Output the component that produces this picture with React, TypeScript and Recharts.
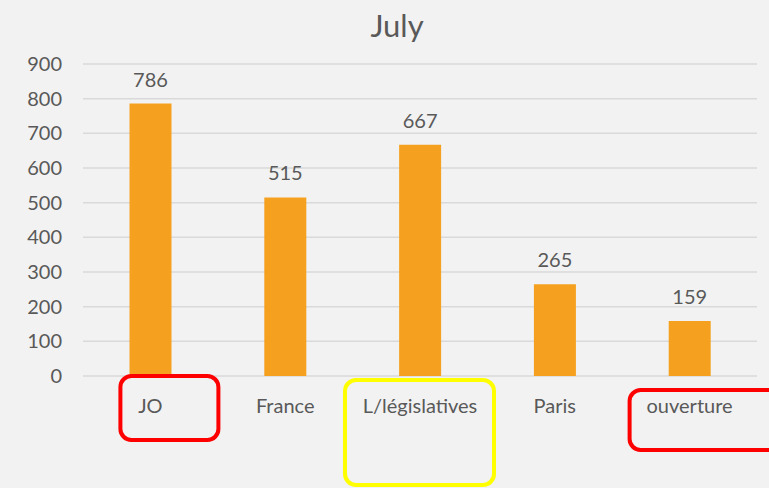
import React from 'react';
import { BarChart, Bar, XAxis, YAxis, CartesianGrid, LabelList } from 'recharts';

const categories = ['JO', 'France', 'L/législatives', 'Paris', 'ouverture'];
const counts = [786, 515, 667, 265, 159];
const yTicks = [0, 100, 200, 300, 400, 500, 600, 700, 800, 900];
const title = 'July';

const data = categories.map((name, i) => ({ name, value: counts[i] }));

// hand-drawn highlight boxes around some category labels (relative to the tick)
const highlights: Record<string, { color: string; dx1: number; dx2: number; dy1: number; dy2: number }> = {
  JO: { color: '#FF0000', dx1: -30, dx2: 68, dy1: 0, dy2: 64 },
  'L/législatives': { color: '#FFFF00', dx1: -75, dx2: 74, dy1: 4, dy2: 109 },
  ouverture: { color: '#FF0000', dx1: -60, dx2: 95, dy1: 14, dy2: 74 },
};

const FONT = 'Lato, "Open Sans", sans-serif';
const TEXT = '#595959';

const CategoryTick = (props: any) => {
  const { x, y, payload } = props;
  const h = highlights[payload.value];
  return (
    <g>
      {h && (
        <rect
          x={x + h.dx1}
          y={y + h.dy1}
          width={h.dx2 - h.dx1}
          height={h.dy2 - h.dy1}
          rx={11}
          ry={11}
          fill="none"
          stroke={h.color}
          strokeWidth={4}
        />
      )}
      <text x={x} y={y + 37} textAnchor="middle" fill={TEXT} fontSize={20} fontFamily={FONT}>
        {payload.value}
      </text>
    </g>
  );
};

export default function App() {
  return (
    <div style={{ position: 'absolute', left: 0, top: 0, width: 769, height: 488, background: '#F2F2F2' }}>
      <div
        style={{
          position: 'absolute',
          left: 0,
          top: 5,
          width: 794,
          textAlign: 'center',
          fontFamily: FONT,
          fontSize: 31,
          color: TEXT,
          lineHeight: '40px',
        }}
      >
        {title}
      </div>
      <BarChart
        width={769}
        height={488}
        data={data}
        margin={{ top: 64, right: 12, bottom: 0, left: 0 }}
        barCategoryGap="34.5%"
      >
        <CartesianGrid vertical={false} stroke="#D9D9D9" strokeWidth={1.5} />
        <XAxis
          dataKey="name"
          axisLine={false}
          tickLine={false}
          tickSize={0}
          tickMargin={0}
          height={112}
          interval={0}
          tick={<CategoryTick />}
        />
        <YAxis
          domain={[0, 900]}
          ticks={yTicks}
          width={83}
          axisLine={false}
          tickLine={false}
          tickSize={0}
          tickMargin={21}
          tick={{ fill: TEXT, fontSize: 20, fontFamily: FONT }}
        />
        <Bar dataKey="value" fill="#F5A11F" isAnimationActive={false}>
          <LabelList
            dataKey="value"
            position="top"
            offset={17}
            fill={TEXT}
            fontSize={20}
            fontFamily={FONT}
          />
        </Bar>
      </BarChart>
    </div>
  );
}
